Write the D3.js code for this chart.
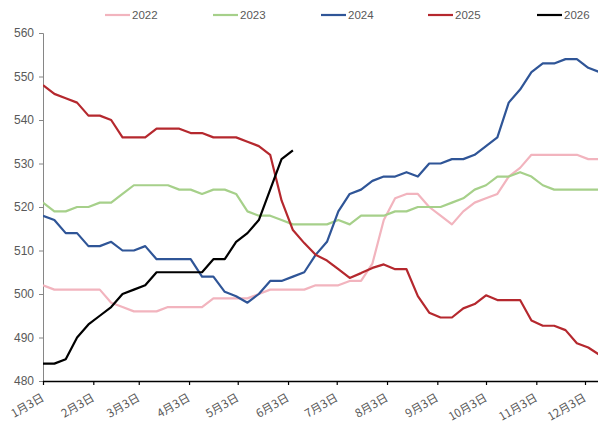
<!DOCTYPE html>
<html>
<head>
<meta charset="utf-8">
<script src="https://cdn.jsdelivr.net/npm/d3@7"></script>
<style>
  body { margin: 0; background: #fff; }
  svg { display: block; }
</style>
</head>
<body>
<svg id="chart" width="598" height="436"></svg>
<script>
// Weekly dates (2026 calendar used for positions)
const dates = ["01-03","01-10","01-17","01-24","01-31","02-07","02-14","02-21","02-28",
  "03-07","03-14","03-21","03-28","04-04","04-11","04-18","04-25","05-02","05-09","05-16",
  "05-23","05-30","06-06","06-13","06-20","06-27","07-04","07-11","07-18","07-25","08-01",
  "08-08","08-15","08-22","08-29","09-05","09-12","09-19","09-26","10-03","10-10","10-17",
  "10-24","10-31","11-07","11-14","11-21","11-28","12-05","12-12"];

const tickDates = ["01-03","02-03","03-03","04-03","05-03","06-03","07-03","08-03","09-03","10-03","11-03","12-03"];
const tickLabels = ["1月3日","2月3日","3月3日","4月3日","5月3日","6月3日","7月3日","8月3日","9月3日","10月3日","11月3日","12月3日"];
const yTicks = [480,490,500,510,520,530,540,550,560];

const s2022 = [502,501,501,501,501,501,498,497,496,496,496,497,497,497,497,499,499,499,499,500,
  501,501,501,501,502,502,502,503,503,507,517,522,523,523,520,518,516,519,521,522,
  523,527,529,532,532,532,532,532,531,531];
const s2023 = [521,519,519,520,520,521,521,523,525,525,525,525,524,524,523,524,524,523,519,518,
  518,517,516,516,516,516,517,516,518,518,518,519,519,520,520,520,521,522,524,525,
  527,527,528,527,525,524,524,524,524,524];
const s2024 = [518,517,514,514,511,511,512,510,510,511,508,508,508,508,504,504,500.5,499.5,498,500,
  503,503,504,505,509,512,519,523,524,526,527,527,528,527,530,530,531,531,532,534,
  536,544,547,551,553,553,554,554,552,551];
const s2025 = [548,546,545,544,541,541,540,536,536,536,538,538,538,537,537,536,536,536,535,534,
  532,521.5,514.7,511.7,509,507.7,505.7,503.7,504.8,506,506.8,505.7,505.7,499.5,495.7,494.6,494.6,496.7,497.7,499.7,
  498.6,498.6,498.6,493.9,492.7,492.7,491.7,488.7,487.7,486];
const s2026 = [484,484,485,490,493,495,497,500,501,502,505,505,505,505,505,508,508,512,514,517,
  524,531,533];

const seriesNames = ["2022","2023","2024","2025","2026"];
const seriesColors = ["#F2B4BE","#A6D08A","#2F5597","#B5282E","#000000"];
const seriesData = [s2022, s2023, s2024, s2025, s2026];

const parseD = d => new Date(2026, +d.slice(0,2)-1, +d.slice(3,5));

const svg = d3.select("#chart");
const mLeft = 43, mRight = 598, mTop = 33, mBottom = 381;

const x = d3.scaleTime()
  .domain([parseD("01-03"), parseD("12-12")])
  .range([mLeft, 599.6]);
const y = d3.scaleLinear().domain([480, 560]).range([mBottom, mTop]);

svg.append("defs").append("clipPath").attr("id","clip")
  .append("rect").attr("x", mLeft).attr("y", 0).attr("width", mRight-mLeft).attr("height", 436);

// Y axis
const yAxis = svg.append("g").attr("transform", `translate(${mLeft},0)`)
  .call(d3.axisLeft(y).tickValues(yTicks).tickSize(4).tickPadding(5).tickFormat(d3.format("d")));
yAxis.select(".domain").attr("stroke", "#868686");
yAxis.selectAll(".tick line").attr("stroke", "#868686");
yAxis.selectAll("text").attr("fill", "#595959")
  .style("font-family", "'Liberation Sans', Arial, sans-serif").style("font-size", "12px");

// Lines
const g = svg.append("g").attr("clip-path", "url(#clip)");
seriesData.forEach((vals, i) => {
  const line = d3.line()
    .x((d, j) => x(parseD(dates[j])))
    .y(d => y(d));
  g.append("path")
    .datum(vals)
    .attr("fill", "none")
    .attr("stroke", seriesColors[i])
    .attr("stroke-width", 2.2)
    .attr("stroke-linejoin", "round")
    .attr("d", line);
});

// X axis
const xAxis = svg.append("g").attr("transform", `translate(0,${mBottom})`)
  .call(d3.axisBottom(x).tickValues(tickDates.map(parseD)).tickSize(4).tickFormat(""));
xAxis.select(".domain").attr("stroke", "#000").attr("stroke-width", 1.5)
  .attr("d", `M${mLeft},0.5H${mRight}`);
xAxis.selectAll(".tick line").attr("stroke", "#000").attr("stroke-width", 1.2);

svg.append("g").selectAll("text")
  .data(tickDates)
  .join("text")
  .attr("transform", d => `translate(${x(parseD(d))+2},${mBottom+19}) rotate(-30)`)
  .attr("text-anchor", "end")
  .attr("fill", "#595959")
  .style("font-family", "'Noto Sans CJK SC', sans-serif")
  .style("font-size", "11.5px")
  .text((d, i) => tickLabels[i]);

// Legend
const legendX = [105, 213, 321, 428, 537];
const lg = svg.append("g");
seriesNames.forEach((name, i) => {
  lg.append("line")
    .attr("x1", legendX[i]).attr("x2", legendX[i] + 25)
    .attr("y1", 15).attr("y2", 15)
    .attr("stroke", seriesColors[i]).attr("stroke-width", 2.2);
  lg.append("text")
    .attr("x", legendX[i] + 27).attr("y", 15).attr("dy", "0.35em")
    .attr("fill", "#595959")
    .style("font-family", "'Liberation Sans', Arial, sans-serif")
    .style("font-size", "11.5px")
    .text(name);
});
</script>
</body>
</html>
